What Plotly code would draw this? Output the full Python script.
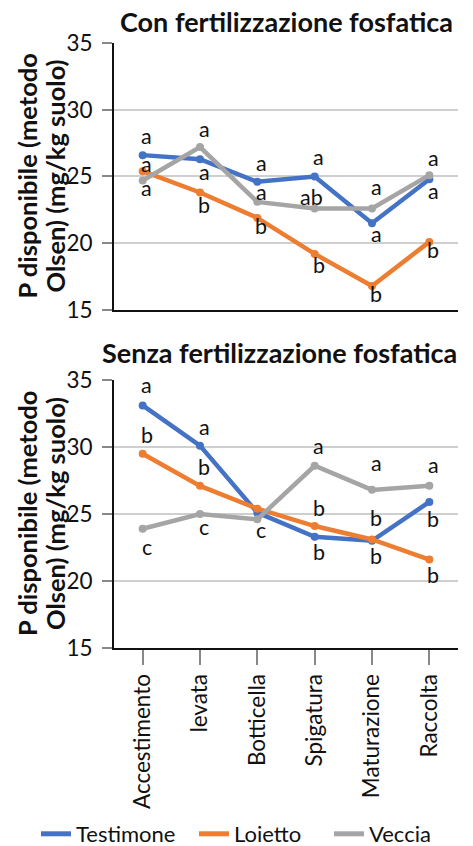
import plotly.graph_objects as go

categories = ["Accestimento", "levata", "Botticella", "Spigatura", "Maturazione", "Raccolta"]
series_names = ["Testimone", "Loietto", "Veccia"]

# Con fertilizzazione fosfatica
con_testimone = [26.6, 26.3, 24.6, 25.0, 21.5, 24.8]
con_loietto = [25.4, 23.8, 21.9, 19.2, 16.8, 20.1]
con_veccia = [24.7, 27.2, 23.1, 22.6, 22.6, 25.1]

# Senza fertilizzazione fosfatica
senza_testimone = [33.1, 30.1, 25.1, 23.3, 23.0, 25.9]
senza_loietto = [29.5, 27.1, 25.4, 24.1, 23.1, 21.6]
senza_veccia = [23.9, 25.0, 24.6, 28.6, 26.8, 27.1]

# significance letters
con_lab_testimone = ["a", "a", "a", "a", "a", "a"]
con_lab_loietto = ["a", "b", "b", "b", "b", "b"]
con_lab_veccia = ["a", "a", "a", "ab", "a", "a"]
senza_lab_testimone = ["a", "a", "", "b", "b", "b"]
senza_lab_loietto = ["b", "b", "", "b", "b", "b"]
senza_lab_veccia = ["c", "c", "c", "a", "a", "a"]

y_ticks = [15, 20, 25, 30, 35]

# label vertical offsets in px (style)
con_shift = [
    [19, -13, 19, 19, -11, -12],
    [7, -12, -8, -11, -8, -8],
    [-7, 18, 10, 12, 22, 17],
]
senza_shift = [
    [20, 19, 0, -15, -15, -17],
    [19, 19, 0, 18, 21, -15],
    [-18, -13, -11, 20, 27, 21],
]
legend_widths = [113, 90, 70]

colors = ["#4472C4", "#ED7D31", "#A5A5A5"]
FONT = "Lato"

fig = go.Figure()

panels = [
    ([con_testimone, con_loietto, con_veccia],
     [con_lab_testimone, con_lab_loietto, con_lab_veccia], con_shift, "x", "y"),
    ([senza_testimone, senza_loietto, senza_veccia],
     [senza_lab_testimone, senza_lab_loietto, senza_lab_veccia], senza_shift, "x2", "y2"),
]

annotations = []
for vals_list, labs_list, shifts, xa, ya in panels:
    for i, (vals, labs) in enumerate(zip(vals_list, labs_list)):
        fig.add_trace(go.Scatter(
            x=categories, y=vals, mode="lines+markers", name=series_names[i],
            line=dict(color=colors[i], width=4.5),
            marker=dict(color=colors[i], size=8),
            xaxis=xa, yaxis=ya, showlegend=False, hoverinfo="skip",
        ))
        for j, (c, v, t) in enumerate(zip(categories, vals, labs)):
            if not t:
                continue
            annotations.append(dict(
                x=c, y=v, xref=xa, yref=ya, text=t, showarrow=False,
                xshift=4 if t != "ab" else -3, yshift=shifts[i][j],
                font=dict(family=FONT, size=21.5, color="#111111"),
            ))

for i, n in enumerate(series_names):
    fig.add_trace(go.Scatter(
        x=[None], y=[None], mode="lines", name=n, legendwidth=legend_widths[i],
        line=dict(color=colors[i], width=5), showlegend=True,
    ))

L, R, T, B, W, H = 114, 15, 43, 198, 473, 846
pw, ph = W - L - R, H - T - B

ytitle_lines = ["P disponibile (metodo", "Olsen) (mg/kg suolo)"]
top_dom = [0.5587, 1.0]
bot_dom = [0.0, 0.443]
for dom in (top_dom, bot_dom):
    for line, px in zip(ytitle_lines, (27, 55)):
        annotations.append(dict(
            x=(px - L) / pw, y=(dom[0] + dom[1]) / 2, xref="paper", yref="paper",
            text="<b>" + line + "</b>", textangle=-90, showarrow=False,
            font=dict(family=FONT, size=25.5, color="#111111"),
            xanchor="center", yanchor="middle",
        ))

for txt, px, py in (("Con fertilizzazione fosfatica", 286, 22),
                    ("Senza fertilizzazione fosfatica", 279, 352)):
    annotations.append(dict(
        x=(px - L) / pw, y=(H - B - py) / ph, xref="paper", yref="paper",
        text="<b>" + txt + "</b>", showarrow=False, xanchor="center", yanchor="middle",
        font=dict(family=FONT, size=27, color="#111111"),
    ))

yaxis_common = dict(
    range=[15, 35], tickvals=y_ticks, ticks="outside", ticklen=10, tickcolor="#888888",
    tickwidth=1.5, showline=True, linecolor="#111111", linewidth=2,
    showgrid=True, gridcolor="#cfcfcf", gridwidth=1.5, zeroline=False,
    tickfont=dict(family=FONT, size=22.5, color="#111111"), ticklabelstandoff=5,
)
xaxis_common = dict(
    type="category", range=[-0.5, 5.5], showline=True, linecolor="#111111", linewidth=2,
    showgrid=False, zeroline=False,
)

fig.update_layout(
    width=W, height=H,
    margin=dict(l=L, r=R, t=T, b=B, autoexpand=False),
    paper_bgcolor="white", plot_bgcolor="white",
    xaxis=dict(**xaxis_common, domain=[0, 1], anchor="y", showticklabels=False, ticks=""),
    yaxis=dict(**yaxis_common, domain=top_dom, anchor="x"),
    xaxis2=dict(**xaxis_common, domain=[0, 1], anchor="y2", ticks="outside", ticklen=15,
                tickcolor="#888888", tickwidth=1.5, tickangle=-90, ticklabelstandoff=0,
                tickfont=dict(family=FONT, size=22.5, color="#111111")),
    yaxis2=dict(**yaxis_common, domain=bot_dom, anchor="x2"),
    annotations=annotations,
    legend=dict(orientation="h", x=(36 - L) / pw, xanchor="left",
                y=(H - B - 834) / ph, yanchor="middle",
                font=dict(family=FONT, size=22, color="#111111"), itemwidth=30,
                traceorder="normal"),
    showlegend=True,
)

fig.write_html("out.html", config={"displayModeBar": False},
               post_script="document.body.style.margin='0';")
